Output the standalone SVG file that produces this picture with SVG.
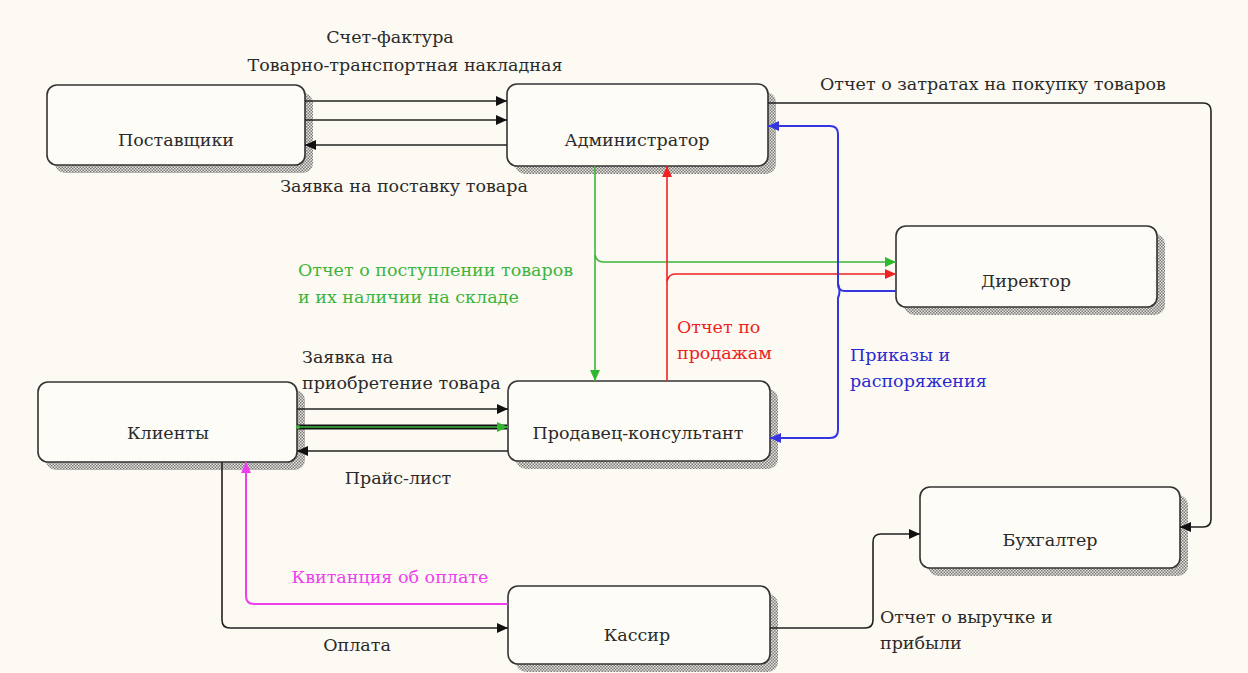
<svg xmlns="http://www.w3.org/2000/svg" width="1248" height="673" viewBox="0 0 1248 673">
<defs>
<pattern id="hatch" width="3" height="3" patternUnits="userSpaceOnUse">
<rect width="3" height="3" fill="#e6e4dc"/>
<rect x="0" y="0" width="1.5" height="1.5" fill="#7a7a7a"/>
<rect x="1.5" y="1.5" width="1.5" height="1.5" fill="#7a7a7a"/>
</pattern>
<marker id="ak" markerWidth="12" markerHeight="10" refX="11" refY="5" orient="auto" markerUnits="userSpaceOnUse"><path d="M0,0 L11,5 L0,10 Z" fill="#111"/></marker>
<marker id="ag" markerWidth="12" markerHeight="10" refX="11" refY="5" orient="auto" markerUnits="userSpaceOnUse"><path d="M0,0 L11,5 L0,10 Z" fill="#2fb82f"/></marker>
<marker id="ar" markerWidth="12" markerHeight="10" refX="11" refY="5" orient="auto" markerUnits="userSpaceOnUse"><path d="M0,0 L11,5 L0,10 Z" fill="#ee2222"/></marker>
<marker id="ab" markerWidth="12" markerHeight="10" refX="11" refY="5" orient="auto" markerUnits="userSpaceOnUse"><path d="M0,0 L11,5 L0,10 Z" fill="#3535e0"/></marker>
<marker id="am" markerWidth="12" markerHeight="10" refX="11" refY="5" orient="auto" markerUnits="userSpaceOnUse"><path d="M0,0 L11,5 L0,10 Z" fill="#ee3eee"/></marker>
</defs>
<style>
.shadow{fill:url(#hatch);}
.box{fill:#fdfcf6;stroke:#333;stroke-width:1.6;}
.name{font-family:"DejaVu Serif","Liberation Serif",serif;font-size:17.5px;fill:#2a2a2a;text-anchor:middle;}
.lbl{font-family:"DejaVu Serif","Liberation Serif",serif;font-size:17.5px;fill:#2a2a2a;}
.c{fill:none;stroke-width:1.6;}
.k{stroke:#222;}
.g{stroke:#3cb43c;}
.r{stroke:#ee2222;}
.b{stroke:#3535e0;stroke-width:2;}
.m{stroke:#ee3eee;stroke-width:2;}
.tg{fill:#3cb43c;}
.tr{fill:#ee2222;}
.tb{fill:#2a2ad0;}
.tm{fill:#ee3eee;}
</style>
<rect width="1248" height="673" fill="#fcfaf2"/>

<g id="node-postavshiki">
<rect class="shadow" x="55" y="93" width="258" height="80" rx="10"/>
<rect class="box" x="47" y="85" width="258" height="80" rx="10"/>
<text class="name" x="176" y="146">Поставщики</text>
</g>
<g id="node-admin">
<rect class="shadow" x="515" y="92" width="261" height="82" rx="10"/>
<rect class="box" x="507" y="84" width="261" height="82" rx="10"/>
<text class="name" x="637" y="146">Администратор</text>
</g>
<g id="node-director">
<rect class="shadow" x="904" y="234" width="261" height="81" rx="10"/>
<rect class="box" x="896" y="226" width="261" height="81" rx="10"/>
<text class="name" x="1026" y="287">Директор</text>
</g>
<g id="node-clients">
<rect class="shadow" x="46" y="390" width="259" height="80" rx="10"/>
<rect class="box" x="38" y="382" width="259" height="80" rx="10"/>
<text class="name" x="168" y="439">Клиенты</text>
</g>
<g id="node-seller">
<rect class="shadow" x="516" y="389" width="262" height="80" rx="10"/>
<rect class="box" x="508" y="381" width="262" height="80" rx="10"/>
<text class="name" x="638" y="439">Продавец-консультант</text>
</g>
<g id="node-cashier">
<rect class="shadow" x="516" y="594" width="262" height="78" rx="10"/>
<rect class="box" x="508" y="586" width="262" height="78" rx="10"/>
<text class="name" x="637" y="641">Кассир</text>
</g>
<g id="node-accountant">
<rect class="shadow" x="928" y="495" width="260" height="81" rx="10"/>
<rect class="box" x="920" y="487" width="260" height="81" rx="10"/>
<text class="name" x="1050" y="546">Бухгалтер</text>
</g>

<g id="connectors">
<path class="c k" d="M305,101 H507" marker-end="url(#ak)"/>
<path class="c k" d="M305,120 H507" marker-end="url(#ak)"/>
<path class="c k" d="M507,145 H305" marker-end="url(#ak)"/>
<path class="c k" d="M768,103 H1203 Q1211,103 1211,111 V519 Q1211,527 1203,527 H1180" marker-end="url(#ak)"/>
<path class="c g" d="M595,166 V381" marker-end="url(#ag)"/>
<path class="c g" d="M595,255 Q597,262 603,262 H896" marker-end="url(#ag)"/>
<path class="c r" d="M667,381 V166" marker-end="url(#ar)"/>
<path class="c r" d="M667,281 Q669,274 675,274 H896" marker-end="url(#ar)"/>
<path class="c b" d="M896,291 H845 Q838,291 838,284 V134 Q838,126 830,126 H768" marker-end="url(#ab)"/>
<path class="c b" d="M838,284 Q841,291 838,298 V430 Q838,438 830,438 H770" marker-end="url(#ab)"/>
<path class="c k" d="M297,409 H508" marker-end="url(#ak)"/>
<path d="M297,427 H507" fill="none" stroke="#111" stroke-width="5"/>
<path class="c g" d="M297,427 H508" stroke-width="2" marker-end="url(#ag)"/>
<circle cx="298" cy="427" r="2" fill="#3cb43c"/>
<path class="c k" d="M508,451 H297" marker-end="url(#ak)"/>
<path class="c k" d="M222,462 V620 Q222,628 230,628 H508" marker-end="url(#ak)"/>
<path class="c m" d="M508,604 H254 Q246,604 246,596 V462" marker-end="url(#am)"/>
<path class="c k" d="M770,628 H865 Q873,628 873,620 V542 Q873,534 881,534 H920" marker-end="url(#ak)"/>
</g>

<g id="labels">
<text class="lbl" x="390" y="43" text-anchor="middle">Счет-фактура</text>
<text class="lbl" x="405" y="71" text-anchor="middle">Товарно-транспортная накладная</text>
<text class="lbl" x="404" y="192" text-anchor="middle">Заявка на поставку товара</text>
<text class="lbl" x="820" y="90">Отчет о затратах на покупку товаров</text>
<text class="lbl tg" x="298" y="276">Отчет о поступлении товаров</text>
<text class="lbl tg" x="298" y="303">и их наличии на складе</text>
<text class="lbl tr" x="677" y="333">Отчет по</text>
<text class="lbl tr" x="677" y="359">продажам</text>
<text class="lbl tb" x="850" y="361">Приказы и</text>
<text class="lbl tb" x="850" y="387">распоряжения</text>
<text class="lbl" x="302" y="363">Заявка на</text>
<text class="lbl" x="302" y="389">приобретение товара</text>
<text class="lbl" x="398" y="484" text-anchor="middle">Прайс-лист</text>
<text class="lbl tm" x="390" y="583" text-anchor="middle">Квитанция об оплате</text>
<text class="lbl" x="357" y="651" text-anchor="middle">Оплата</text>
<text class="lbl" x="880" y="623">Отчет о выручке и</text>
<text class="lbl" x="880" y="649">прибыли</text>
</g>
</svg>
